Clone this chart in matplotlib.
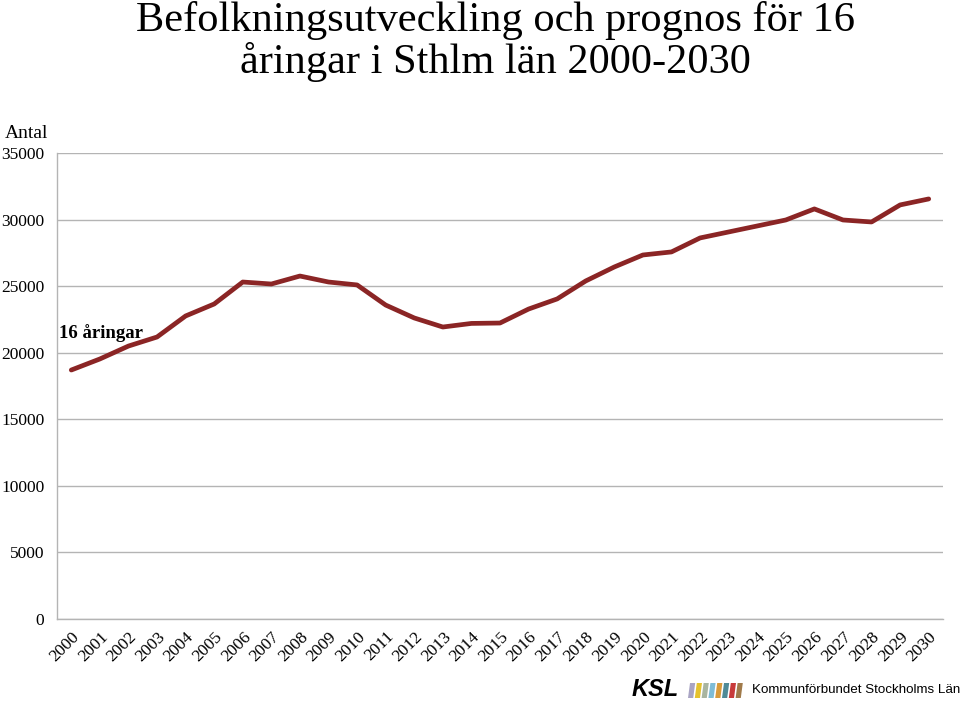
import matplotlib
matplotlib.use("Agg")
import matplotlib.pyplot as plt
from matplotlib.patches import Polygon

years = [str(y) for y in range(2000, 2031)]
values = [18700, 19530, 20500, 21180, 22760, 23660, 25310, 25160, 25760, 25310,
          25090, 23580, 22610, 21930, 22200, 22230, 23280, 24040, 25390, 26440,
          27340, 27570, 28620, 29070, 29520, 29970, 30800, 29970, 29820, 31100, 31550]
series_label = "16 åringar"
yticks = [0, 5000, 10000, 15000, 20000, 25000, 30000, 35000]

serif = ["Liberation Serif", "DejaVu Serif"]
sans = ["Liberation Sans", "DejaVu Sans"]

fig = plt.figure(figsize=(9.6, 7.07), dpi=100)
ax = fig.add_axes([57/960, 1-619/707, 886/960, 466/707])

x = list(range(len(years)))
ax.plot(x, values, color="#8b2525", lw=3.4, solid_capstyle="round", solid_joinstyle="round", zorder=3)
ax.set_xlim(-0.5, len(years)-0.5)
ax.set_ylim(0, 35000)
ax.set_yticks(yticks)
ax.set_yticklabels([str(v) for v in yticks], fontfamily=serif, fontsize=12.5)
ax.set_xticks(x)
ax.set_xticklabels(years, fontfamily=serif, fontsize=12.5, rotation=45,
                   ha="right", va="top", rotation_mode="anchor")
ax.tick_params(axis="both", length=0)
ax.tick_params(axis="y", pad=9)
ax.tick_params(axis="x", pad=7)
ax.grid(axis="y", color="#b4b4b4", lw=1)
ax.set_axisbelow(True)
for s in ["top", "right"]:
    ax.spines[s].set_visible(False)
for s in ["left", "bottom"]:
    ax.spines[s].set_color("#b4b4b4")
    ax.spines[s].set_linewidth(1)

ax.text(-0.42, 20800, series_label, fontfamily=serif, fontsize=13.5, fontweight="bold",
        ha="left", va="bottom")

fig.text(495/960, 1-1/707, "Befolkningsutveckling och prognos för 16\nåringar i Sthlm län 2000-2030",
         fontfamily=serif, fontsize=30.5, ha="center", va="top", linespacing=1.05)
fig.text(5/960, 1-133/707, "Antal", fontfamily=serif, fontsize=14, ha="left", va="center")

# footer logo
fig.text(632/960, 1-690/707, "KSL", fontfamily=sans, fontsize=17,
         fontweight="bold", fontstyle="italic", ha="left", va="center")
bar_colors = ["#a9a4c4", "#e5c22f", "#a9b5a0", "#7fbcd6", "#d99a3a", "#4f8a96", "#c83a3a", "#a07a4a"]
for i, c in enumerate(bar_colors):
    x0 = 688 + i * 6.8
    y0, y1 = 1-698/707, 1-683/707
    pts = [(x0/960, y0), ((x0+5.2)/960, y0), ((x0+7.2)/960, y1), ((x0+2)/960, y1)]
    fig.patches.append(Polygon(pts, closed=True, transform=fig.transFigure, color=c, lw=0))
fig.text(752/960, 1-690/707, "Kommunförbundet Stockholms Län", fontfamily=sans,
         fontsize=9.6, ha="left", va="center")

fig.savefig("out.png", dpi=100)
